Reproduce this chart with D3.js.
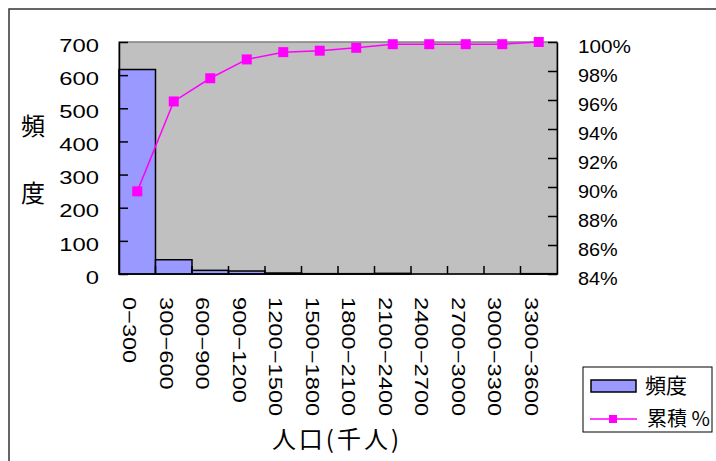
<!DOCTYPE html>
<html>
<head>
<meta charset="utf-8">
<script src="https://cdn.jsdelivr.net/npm/d3@7"></script>
<style>
  body { margin: 0; background: #fff; }
  svg { display: block; }
</style>
</head>
<body>
<div id="chart"></div>
<script>
// data
var categories = ["0−300", "300−600", "600−900", "900−1200", "1200−1500", "1500−1800",
                  "1800−2100", "2100−2400", "2400−2700", "2700−3000", "3000−3300", "3300−3600"];
var counts = [617, 43, 11, 9, 3, 1, 1, 2, 0, 0, 0, 1];
var cumulative = [89.7, 95.9, 97.5, 98.8, 99.3, 99.4, 99.6, 99.85, 99.85, 99.85, 99.85, 100];
var leftTicks = [0, 100, 200, 300, 400, 500, 600, 700];
var rightTicks = [84, 86, 88, 90, 92, 94, 96, 98, 100];

function init() {
    var W = 716, H = 461;
    var plot = {left: 119, right: 557, top: 42, bottom: 274};
    var numFont = "'Liberation Sans', Arial, sans-serif";
    var jpFont = "'Noto Sans CJK JP', sans-serif";
    var charW = 13.25;

    var svg = d3.select("#chart").append("svg")
        .attr("width", W)
        .attr("height", H);

    // outer frame
    svg.append("rect")
        .attr("x", 9).attr("y", 9)
        .attr("width", W + 20).attr("height", H + 20)
        .attr("fill", "none")
        .attr("stroke", "#333")
        .attr("stroke-width", 1.5);

    var x = d3.scaleBand()
        .domain(categories)
        .range([plot.left, plot.right])
        .padding(0);

    var y = d3.scaleLinear()
        .domain([0, 700])
        .range([plot.bottom, plot.top]);

    var y2 = d3.scaleLinear()
        .domain([84, 100])
        .range([plot.bottom, plot.top]);

    // plot area
    svg.append("rect")
        .attr("x", plot.left).attr("y", plot.top)
        .attr("width", plot.right - plot.left)
        .attr("height", plot.bottom - plot.top)
        .attr("fill", "#c0c0c0")
        .attr("stroke", "#808080")
        .attr("stroke-width", 1.5);

    // bars
    svg.append("g")
        .selectAll("rect")
        .data(counts)
        .enter()
        .append("rect")
        .attr("x", function (d, i) { return x(categories[i]); })
        .attr("y", function (d) { return y(d); })
        .attr("width", x.bandwidth())
        .attr("height", function (d) { return y(0) - y(d); })
        .attr("fill", "#9999ff")
        .attr("stroke", "#000")
        .attr("stroke-width", 1.5);

    // left axis
    var gl = svg.append("g")
        .attr("transform", "translate(" + plot.left + ",0)")
        .call(d3.axisLeft(y).tickValues(leftTicks).tickSize(-9).tickPadding(20).tickSizeOuter(0));
    gl.select(".domain").attr("stroke", "#000").attr("stroke-width", 1.5);
    gl.selectAll(".tick line").attr("stroke", "#000").attr("stroke-width", 1.5);
    gl.selectAll(".tick text")
        .attr("font-family", numFont)
        .attr("font-size", 18.5)
        .attr("fill", "#000")
        .attr("dy", "0.5em")
        .attr("textLength", function (d) { return String(d).length * charW; })
        .attr("lengthAdjust", "spacingAndGlyphs");

    // right axis
    var gr = svg.append("g")
        .attr("transform", "translate(" + plot.right + ",0)")
        .call(d3.axisRight(y2).tickValues(rightTicks).tickSize(-9).tickPadding(21).tickSizeOuter(0)
            .tickFormat(function (d) { return d + "%"; }));
    gr.select(".domain").attr("stroke", "#000").attr("stroke-width", 1.5);
    gr.selectAll(".tick line").attr("stroke", "#000").attr("stroke-width", 1.5);
    gr.selectAll(".tick text")
        .attr("font-family", numFont)
        .attr("font-size", 18.5)
        .attr("fill", "#000")
        .attr("dy", "0.55em")
        .attr("textLength", function (d) { return (String(d).length + 1) * charW; })
        .attr("lengthAdjust", "spacingAndGlyphs");

    // bottom axis: ticks at category boundaries, pointing inward
    svg.append("line")
        .attr("x1", plot.left).attr("x2", plot.right)
        .attr("y1", plot.bottom).attr("y2", plot.bottom)
        .attr("stroke", "#000").attr("stroke-width", 1.5);

    svg.append("g")
        .selectAll("line")
        .data(categories.slice(1))
        .enter()
        .append("line")
        .attr("x1", function (d) { return x(d); })
        .attr("x2", function (d) { return x(d); })
        .attr("y1", plot.bottom)
        .attr("y2", plot.bottom - 8)
        .attr("stroke", "#000")
        .attr("stroke-width", 1.5);

    svg.append("g")
        .selectAll("text")
        .data(categories)
        .enter()
        .append("text")
        .attr("transform", function (d) {
            return "translate(" + (x(d) + x.bandwidth() / 2 - 7.5) + ",297) rotate(90)";
        })
        .attr("dy", "0.35em")
        .attr("font-family", numFont)
        .attr("font-size", 18.5)
        .attr("fill", "#000")
        .attr("textLength", function (d) { return d.length * charW; })
        .attr("lengthAdjust", "spacingAndGlyphs")
        .text(function (d) { return d; });

    // cumulative line
    var line = d3.line()
        .x(function (d, i) { return x(categories[i]) + x.bandwidth() / 2; })
        .y(function (d) { return y2(d); });

    svg.append("path")
        .datum(cumulative)
        .attr("d", line)
        .attr("fill", "none")
        .attr("stroke", "#ff00ff")
        .attr("stroke-width", 1.5);

    svg.append("g")
        .selectAll("rect")
        .data(cumulative)
        .enter()
        .append("rect")
        .attr("x", function (d, i) { return x(categories[i]) + x.bandwidth() / 2 - 5; })
        .attr("y", function (d) { return y2(d) - 5; })
        .attr("width", 10)
        .attr("height", 10)
        .attr("fill", "#ff00ff");

    // axis titles
    svg.append("text")
        .attr("x", 33).attr("y", 127)
        .attr("dy", "0.35em")
        .attr("text-anchor", "middle")
        .attr("font-family", jpFont)
        .attr("font-size", 24)
        .text("頻");
    svg.append("text")
        .attr("x", 33).attr("y", 194)
        .attr("dy", "0.35em")
        .attr("text-anchor", "middle")
        .attr("font-family", jpFont)
        .attr("font-size", 24)
        .text("度");

    svg.append("text")
        .attr("x", 337).attr("y", 440)
        .attr("dy", "0.35em")
        .attr("text-anchor", "middle")
        .attr("font-family", jpFont)
        .attr("font-size", 24)
        .attr("letter-spacing", 3)
        .text("人口(千人)");

    // legend
    var lg = svg.append("g");
    lg.append("rect")
        .attr("x", 583).attr("y", 367)
        .attr("width", 129).attr("height", 65)
        .attr("fill", "#fff")
        .attr("stroke", "#000")
        .attr("stroke-width", 1);
    lg.append("rect")
        .attr("x", 591).attr("y", 380)
        .attr("width", 45).attr("height", 12)
        .attr("fill", "#9999ff")
        .attr("stroke", "#000")
        .attr("stroke-width", 1.5);
    lg.append("text")
        .attr("x", 645).attr("y", 386)
        .attr("dy", "0.35em")
        .attr("font-family", jpFont)
        .attr("font-size", 21)
        .text("頻度");
    lg.append("line")
        .attr("x1", 590).attr("x2", 637)
        .attr("y1", 419).attr("y2", 419)
        .attr("stroke", "#ff00ff")
        .attr("stroke-width", 1.5);
    lg.append("rect")
        .attr("x", 609).attr("y", 415)
        .attr("width", 8).attr("height", 8)
        .attr("fill", "#ff00ff");
    lg.append("text")
        .attr("x", 647).attr("y", 419)
        .attr("dy", "0.35em")
        .attr("font-family", jpFont)
        .attr("font-size", 20)
        .text("累積 %");
}

window.onload = init;
</script>
</body>
</html>
